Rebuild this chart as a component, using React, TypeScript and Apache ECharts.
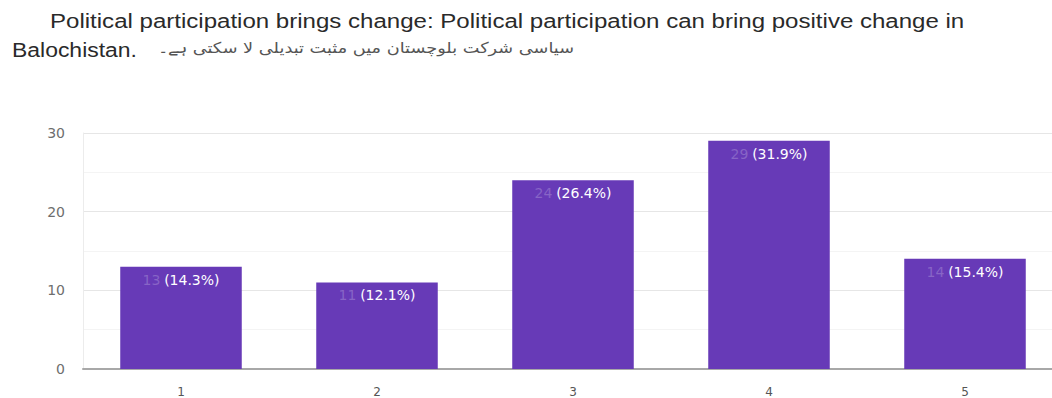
import React, { useEffect, useRef } from "react";
import * as echarts from "echarts";

const categories = ["1", "2", "3", "4", "5"];
const counts = [13, 11, 24, 29, 14];
const percents = ["14.3%", "12.1%", "26.4%", "31.9%", "15.4%"];
const yTicks = { min: 0, max: 30, interval: 10 };
const titleLine1 = "Political participation brings change: Political participation can bring positive change in";
const titleLine2 = "Balochistan.";
const titleUrdu = "سیاسی شرکت بلوچستان میں مثبت تبدیلی لا سکتی ہے۔";

const TITLE_FONT = "20px 'Liberation Sans', Arial, sans-serif";
const URDU_FONT = "15px 'DejaVu Sans', sans-serif";

function fitScale(text: string, font: string, target: number): number {
  const c = document.createElement("canvas").getContext("2d");
  if (!c) return 1;
  c.font = font;
  const w = c.measureText(text).width;
  return w > 0 ? target / w : 1;
}

export default function App() {
  const ref = useRef<HTMLDivElement>(null);
  useEffect(() => {
    if (!ref.current) return;
    const chart = echarts.init(ref.current, undefined, { renderer: "svg" });
    const s1 = fitScale(titleLine1, TITLE_FONT, 915);
    const s2 = fitScale(titleLine2, TITLE_FONT, 125);
    const s3 = fitScale(titleUrdu, URDU_FONT, 419);
    chart.setOption({
      animation: false,
      backgroundColor: "#ffffff",
      textStyle: { fontFamily: "'DejaVu Sans', sans-serif" },
      graphic: [
        {
          type: "text",
          x: 50,
          y: 21,
          scaleX: s1,
          style: { x: 0, y: 0, text: titleLine1, font: TITLE_FONT, fill: "#2a2a2a", align: "left", verticalAlign: "middle" },
        },
        {
          type: "text",
          x: 12,
          y: 50,
          scaleX: s2,
          style: { x: 0, y: 0, text: titleLine2, font: TITLE_FONT, fill: "#2a2a2a", align: "left", verticalAlign: "middle" },
        },
        {
          type: "text",
          x: 158,
          y: 48,
          scaleX: s3,
          style: { x: 0, y: 0, text: titleUrdu, font: URDU_FONT, fill: "#555555", align: "left", verticalAlign: "middle" },
        },
      ],
      grid: { left: 83, right: 1, top: 133, bottom: 27, containLabel: false },
      xAxis: {
        type: "category",
        data: categories,
        axisLine: { show: true, lineStyle: { color: "#a8a8a8", width: 2 } },
        axisTick: { show: false },
        axisLabel: { color: "#555555", fontSize: 12, margin: 17 },
      },
      yAxis: {
        type: "value",
        min: yTicks.min,
        max: yTicks.max,
        interval: yTicks.interval,
        axisLine: { show: true, lineStyle: { color: "#ececec", width: 1 } },
        axisTick: { show: false },
        axisLabel: { color: "#6e6e6e", fontSize: 14, margin: 18 },
        splitLine: { show: true, lineStyle: { color: "#e6e6e6" } },
        minorTick: { show: false, splitNumber: 2 },
        minorSplitLine: { show: true, lineStyle: { color: "#f4f4f4" } },
      },
      series: [
        {
          type: "bar",
          data: counts,
          barWidth: "62%",
          itemStyle: { color: "#673ab7" },
          label: {
            show: true,
            position: "insideTop",
            distance: 6,
            formatter: (p: any) => `{c|${counts[p.dataIndex]}} {p|(${percents[p.dataIndex]})}`,
            rich: {
              c: { color: "rgba(255,255,255,0.22)", fontSize: 14 },
              p: { color: "#ffffff", fontSize: 14 },
            },
          },
        },
      ],
    });
    return () => chart.dispose();
  }, []);
  return (
    <div
      ref={ref}
      style={{ position: "fixed", left: 0, top: 0, width: 1064, height: 398 }}
    />
  );
}
